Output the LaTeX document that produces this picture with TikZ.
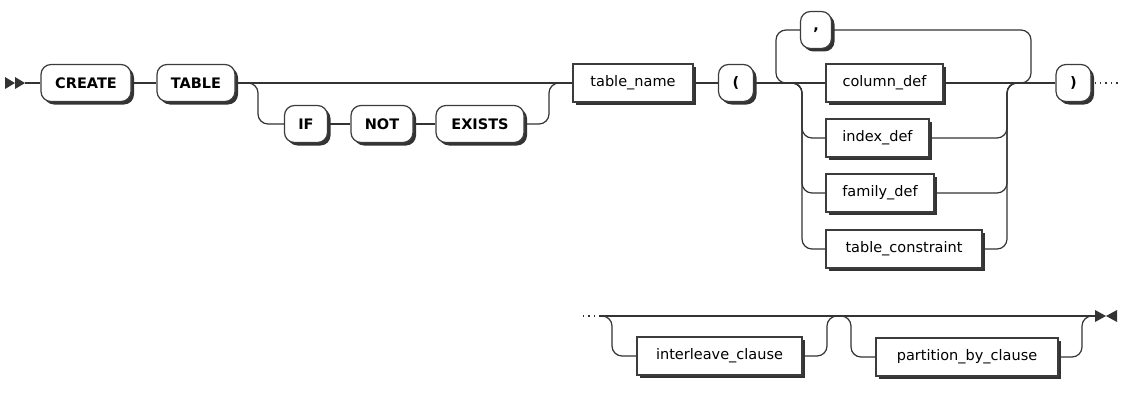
\documentclass[tikz,border=0pt]{standalone}
\usepackage{fontspec}
\setmainfont{DejaVu Sans}
\usepackage{tikz}
\usetikzlibrary{positioning, shadows}
\usepackage{xcolor}
\definecolor{railgray}{RGB}{51, 51, 51}
\definecolor{boxedge}{RGB}{60, 60, 60}
\tikzset{
    keywordbox/.style={rectangle, rounded corners=10pt, draw=boxedge, line width=1.2pt, fill=white, minimum height=37pt, inner sep=0pt, font=\fontsize{14.5}{16}\selectfont\bfseries, drop shadow={shadow xshift=3pt, shadow yshift=-3pt, fill=railgray, opacity=1}},
    rulebox/.style={rectangle, draw=boxedge, line width=1.2pt, fill=white, minimum height=38pt, inner sep=0pt, font=\fontsize{14.5}{16}\selectfont, drop shadow={shadow xshift=3pt, shadow yshift=-3pt, fill=railgray, opacity=1}},
    trackline/.style={draw=railgray, line width=1.2pt, rounded corners=10pt},
    contdots/.style={draw=railgray, line width=1.4pt, dash pattern=on 1.4pt off 4pt},
    railtip/.style={fill=railgray, draw=none}
}
\begin{document}
\begin{tikzpicture}[x=1pt, y=-1pt]
    \useasboundingbox (0,0) rectangle (1137,404);

    % first row
    \node[keywordbox, minimum width=90pt] (create) at (86,83) {CREATE};
    \node[keywordbox, minimum width=78pt] (tablekw) at (196,83) {TABLE};
    \node[keywordbox, minimum width=43pt] (ifkw) at (306,124) {IF};
    \node[keywordbox, minimum width=62pt] (notkw) at (382,124) {NOT};
    \node[keywordbox, minimum width=88pt] (existskw) at (480,124) {EXISTS};
    \node[rulebox, minimum width=120pt] (tname) at (633,83) {table\_name};
    \node[keywordbox, minimum width=35pt] (lparen) at (736,83) {(};
    \node[keywordbox, minimum width=31pt] (comma) at (816,30) {,};
    \node[rulebox, minimum width=117pt] (coldef) at (884.5,83) {column\_def};
    \node[rulebox, minimum width=103pt] (idxdef) at (877.5,138) {index\_def};
    \node[rulebox, minimum width=108pt] (famdef) at (880,193) {family\_def};
    \node[rulebox, minimum width=156pt] (tcons) at (904,249) {table\_constraint};
    \node[keywordbox, minimum width=35pt] (rparen) at (1073.5,83) {)};

    \coordinate (start) at (25,83);
    \coordinate (cont1) at (1118,83);

    \fill[railtip] (5,77) -- (15,83) -- (5,89) -- cycle (15,77) -- (25,83) -- (15,89) -- cycle;
    \draw[trackline] (start) -- (create);
    \draw[trackline] (create) -- (tablekw);
    \draw[trackline] (tablekw) -- (tname);
    \draw[trackline] (tablekw.east) -- (258,83) -- (258,124) -- (ifkw.west);
    \draw[trackline] (ifkw) -- (notkw);
    \draw[trackline] (notkw) -- (existskw);
    \draw[trackline] (existskw.east) -- (549,124) -- (549,83) -- (tname.west);
    \draw[trackline] (tname) -- (lparen);
    \draw[trackline] (lparen) -- (coldef);

    % repeat loop over the comma
    \draw[trackline] (792,83) -- (776,83) -- (776,30) -- (comma.west);
    \draw[trackline] (comma.east) -- (1031,30) -- (1031,83) -- (1017,83);

    % choice of definitions
    \draw[trackline] (790,83) -- (802,83) -- (802,138) -- (idxdef.west);
    \draw[trackline] (790,83) -- (802,83) -- (802,193) -- (famdef.west);
    \draw[trackline] (790,83) -- (802,83) -- (802,249) -- (tcons.west);
    \draw[trackline] (idxdef.east) -- (1007,138) -- (1007,83) -- (1020,83);
    \draw[trackline] (famdef.east) -- (1007,193) -- (1007,83) -- (1020,83);
    \draw[trackline] (tcons.east) -- (1007,249) -- (1007,83) -- (1020,83);
    \draw[trackline] (coldef) -- (rparen);
    \draw[contdots] (rparen.east) ++(3,0) -- (cont1);

    % second row
    \node[rulebox, minimum width=165pt] (interleave) at (719.5,356) {interleave\_clause};
    \node[rulebox, minimum width=182pt] (partition) at (967,357) {partition\_by\_clause};

    \coordinate (cont2) at (583,316);
    \coordinate (railend) at (1095,316);

    \draw[contdots] (cont2) -- (600,316);
    \draw[trackline] (600,316) -- (railend);
    \draw[trackline] (600,316) -- (612,316) -- (612,356) -- (interleave.west);
    \draw[trackline] (interleave.east) -- (827,356) -- (827,316) -- (839,316);
    \draw[trackline] (839,316) -- (851,316) -- (851,357) -- (partition.west);
    \draw[trackline] (partition.east) -- (1082,357) -- (1082,316) -- (railend);
    \fill[railtip] (1095,310) -- (1106,316) -- (1095,322) -- cycle (1117,310) -- (1106,316) -- (1117,322) -- cycle;
\end{tikzpicture}
\end{document}
